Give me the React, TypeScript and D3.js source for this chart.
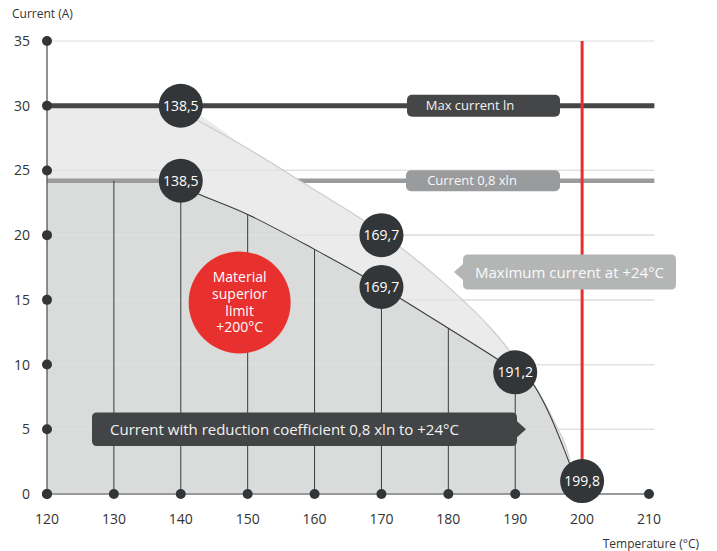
import React from "react";
import * as d3 from "d3";

const xTicks = [120, 130, 140, 150, 160, 170, 180, 190, 200, 210];
const yTicks = [0, 5, 10, 15, 20, 25, 30, 35];
const maxCurrent = 30;
const reducedCurrent = 24.2;
const limitTemp = 200;

const outerTemps = [120, 138.5, 150, 160, 168, 174, 180, 186, 190, 194, 196, 198, 199.1];
const outerValues = [30, 30, 26.7, 23.5, 20.9, 18.6, 16.0, 13.0, 10.5, 7.4, 5.4, 2.9, 0];

const innerTemps = [120, 130, 138.5, 140, 150, 160, 170, 180, 190, 192.5, 195, 197.5, 199.8];
const innerValues = [24.2, 24.2, 24.2, 23.8, 21.6, 18.9, 16.0, 12.8, 9.5, 8.6, 6.3, 3.2, 0];

const dropTemps = [130, 140, 150, 160, 170, 180, 190];

const markerTemps = [140, 140, 170, 170, 190, 200];
const markerValues = [30, 24.2, 20, 16, 9.4, 1];
const markerLabels = ["138,5", "138,5", "169,7", "169,7", "191,2", "199,8"];

const redLines = ["Material", "superior", "limit", "+200°C"];

const FONT = "'Open Sans', 'Noto Sans', sans-serif";

export default function App() {
  const W = 717, H = 551;
  const x = d3.scaleLinear().domain([120, 210]).range([47, 649]);
  const y = d3.scaleLinear().domain([0, 35]).range([494, 41]);
  const xEnd = x(210.8);

  const outerPts = outerTemps.map((t, i) => [t, outerValues[i]] as [number, number]);
  const innerPts = innerTemps.map((t, i) => [t, innerValues[i]] as [number, number]);

  const area = d3.area<[number, number]>().x(d => x(d[0])).y0(y(0)).y1(d => y(d[1])).curve(d3.curveMonotoneX);
  const line = d3.line<[number, number]>().x(d => x(d[0])).y(d => y(d[1])).curve(d3.curveMonotoneX);

  const innerAt = (t: number) => innerValues[innerTemps.indexOf(t)];

  const r = 22;

  const mcX0 = 463, mcX1 = 676, mcY0 = y(18.5), mcY1 = y(15.8);
  const mcMid = (mcY0 + mcY1) / 2;
  const mcPath = `M${mcX0 + 5},${mcY0} H${mcX1 - 5} Q${mcX1},${mcY0} ${mcX1},${mcY0 + 5} V${mcY1 - 5} Q${mcX1},${mcY1} ${mcX1 - 5},${mcY1} H${mcX0 + 5} Q${mcX0},${mcY1} ${mcX0},${mcY1 - 5} V${mcMid + 8} L${mcX0 - 9},${mcMid} L${mcX0},${mcMid - 8} V${mcY0 + 5} Q${mcX0},${mcY0} ${mcX0 + 5},${mcY0} Z`;

  const rcX0 = 92, rcX1 = 517, rcY0 = y(6.3), rcY1 = y(3.7);
  const rcMid = (rcY0 + rcY1) / 2;
  const rcPath = `M${rcX0 + 5},${rcY0} H${rcX1 - 5} Q${rcX1},${rcY0} ${rcX1},${rcY0 + 5} V${rcMid - 8} L${rcX1 + 9},${rcMid} L${rcX1},${rcMid + 8} V${rcY1 - 5} Q${rcX1},${rcY1} ${rcX1 - 5},${rcY1} H${rcX0 + 5} Q${rcX0},${rcY1} ${rcX0},${rcY1 - 5} V${rcY0 + 5} Q${rcX0},${rcY0} ${rcX0 + 5},${rcY0} Z`;

  const grid = (k: string, ticks: number[]) =>
    ticks.map(t => (
      <line key={k + t} x1={x(120)} x2={xEnd} y1={y(t)} y2={y(t)} stroke="#e0e0e0" strokeWidth={1.2} />
    ));

  return (
    <svg width={W} height={H} style={{ position: "absolute", left: 0, top: 0, fontFamily: FONT }}>
      <defs>
        <clipPath id="wedge">
          <rect x={x(140)} y={y(maxCurrent) + 2} width={W} height={H} />
        </clipPath>
      </defs>
      <rect width={W} height={H} fill="#fff" />
      <path d={area(outerPts) || ""} fill="#ebebeb" />
      <path d={area(innerPts) || ""} fill="#d9dcdb" />
      {grid("g", yTicks)}
      <line x1={x(120)} x2={xEnd} y1={y(reducedCurrent)} y2={y(reducedCurrent)} stroke="#9a9b9d" strokeWidth={4.5} />
      <g clipPath="url(#wedge)">
        <path d={area(outerPts) || ""} fill="#ebebeb" />
        <path d={area(innerPts) || ""} fill="#d9dcdb" />
        {grid("gw", yTicks.filter(t => t < maxCurrent))}
      </g>
      <path d={line(outerPts.slice(1)) || ""} fill="none" stroke="#cdcdcd" strokeWidth={1.2} />
      <path d={line(innerPts.slice(2)) || ""} fill="none" stroke="#3a3c3e" strokeWidth={1.1} />
      {dropTemps.map(t => (
        <line key={"d" + t} x1={x(t)} x2={x(t)} y1={y(0)} y2={y(innerAt(t))} stroke="#3a3c3e" strokeWidth={1} />
      ))}
      <line x1={x(120)} x2={xEnd} y1={y(maxCurrent)} y2={y(maxCurrent)} stroke="#454647" strokeWidth={5} />
      <line x1={x(120)} x2={x(120)} y1={y(35)} y2={y(0)} stroke="#555" strokeWidth={1.3} />
      <line x1={x(120)} x2={x(210)} y1={y(0)} y2={y(0)} stroke="#999" strokeWidth={2} />
      <line x1={x(limitTemp)} x2={x(limitTemp)} y1={y(35)} y2={y(1)} stroke="#ea2e2c" strokeWidth={3} />

      <rect x={407} y={y(maxCurrent) - 11} width={153} height={22} rx={5} fill="#454647" />
      <text x={470} y={y(maxCurrent) + 4.5} fontSize={13} fill="#f2f2f2" textAnchor="middle">Max current ln</text>
      <rect x={406} y={y(reducedCurrent) - 10.5} width={154} height={21} rx={5} fill="#9a9b9d" />
      <text x={472} y={y(reducedCurrent) + 4.5} fontSize={13} fill="#f8f8f8" textAnchor="middle">Current 0,8 xln</text>

      <path d={mcPath} fill="#b4b6b6" />
      <text x={(mcX0 + mcX1) / 2} y={mcMid + 5.5} fontSize={15} fill="#fafafa" textAnchor="middle">Maximum current at +24°C</text>

      <path d={rcPath} fill="#434446" />
      <text x={110} y={rcMid + 5.5} fontSize={15} fill="#f2f2f2">Current with reduction coefficient 0,8 xln to +24°C</text>

      <circle cx={x(148.8)} cy={y(14.8)} r={51} fill="#e8302e" />
      {redLines.map((s, i) => (
        <text key={s} x={x(148.8)} y={y(14.8) - 20 + i * 16.6} fontSize={14} fill="#fff" textAnchor="middle">{s}</text>
      ))}

      {markerTemps.map((t, i) => (
        <g key={"m" + i}>
          <circle cx={x(t)} cy={y(markerValues[i])} r={r} fill="#333638" />
          <text x={x(t)} y={y(markerValues[i]) + 5} fontSize={14} fill="#fff" textAnchor="middle">{markerLabels[i]}</text>
        </g>
      ))}

      {yTicks.map(t => (
        <g key={"yt" + t}>
          <circle cx={x(120)} cy={y(t)} r={5} fill="#333638" />
          <text x={30} y={y(t) + 5} fontSize={14} fill="#333" textAnchor="end">{t}</text>
        </g>
      ))}
      {xTicks.map(t => (
        <g key={"xt" + t}>
          <circle cx={x(t)} cy={y(0)} r={5} fill="#333638" />
          <text x={x(t)} y={y(0) + 30} fontSize={14} fill="#333" textAnchor="middle">{t}</text>
        </g>
      ))}
      <text x={12} y={18} fontSize={12} fill="#333">Current (A)</text>
      <text x={699} y={548} fontSize={12} fill="#333" textAnchor="end">Temperature (°C)</text>
    </svg>
  );
}
